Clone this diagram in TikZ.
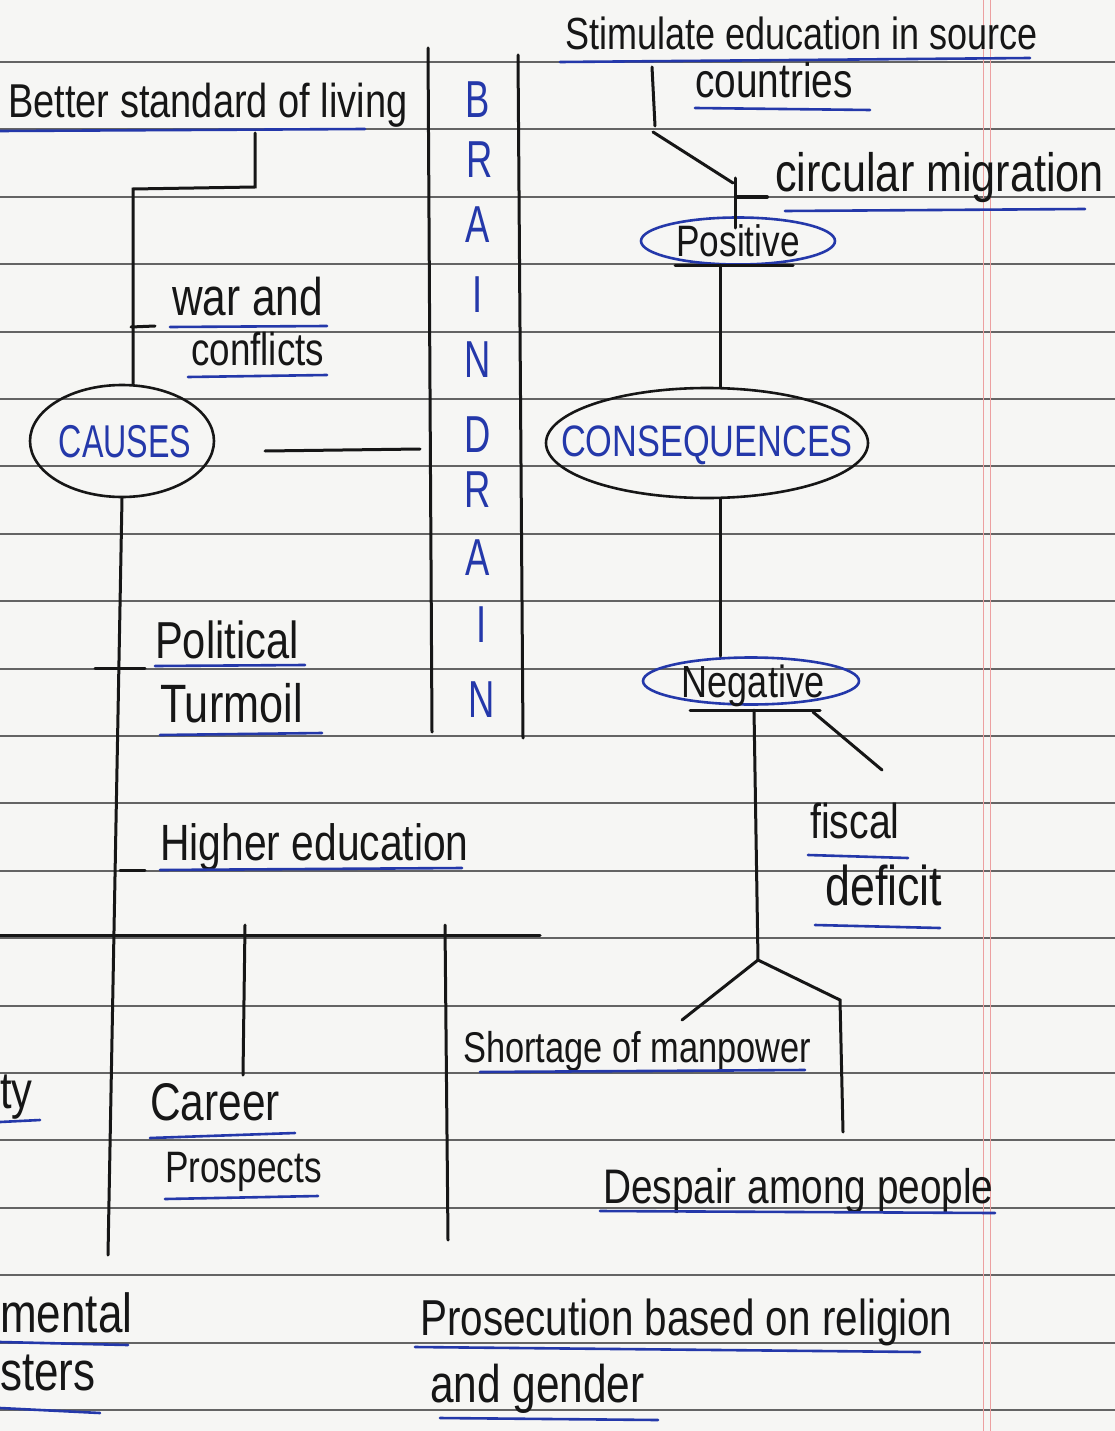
\documentclass[tikz,border=0pt]{standalone}
\usepackage{fontspec}
\usepackage{graphicx}
\setmainfont{Liberation Sans}
\usetikzlibrary{shapes.geometric}
\definecolor{penblue}{RGB}{36,56,170}
\definecolor{inkblack}{RGB}{22,22,22}
\definecolor{paper}{RGB}{246,246,244}
\definecolor{rulegray}{RGB}{100,100,100}
\definecolor{marginred}{RGB}{236,160,160}
\newcommand{\hwtext}[2][0.8]{\scalebox{#1}[1]{#2}}
\begin{document}
\begin{tikzpicture}[x=1pt,y=-1pt,
 ink/.style={line width=3pt,line cap=round,draw=inkblack},
 uline/.style={line width=2.6pt,line cap=round,draw=penblue},
 ruled/.style={line width=1.9pt,draw=rulegray},
 lbl/.style={inner sep=0pt,anchor=base west,text=inkblack,font=\fontsize{#1pt}{#1pt}\selectfont},
 lbl/.default=46,
 letter/.style={inner sep=0pt,text=penblue,font=\fontsize{52pt}{52pt}\selectfont},
 oval/.style={draw=#1,ellipse,line width=2.6pt,inner sep=0pt},
 ovaltext/.style={inner sep=0pt,anchor=base,font=\fontsize{#1pt}{#1pt}\selectfont}
]
\fill[paper] (0,0) rectangle (1115,1431);
\useasboundingbox (0,0) rectangle (1115,1431);
% notebook ruling
\foreach \k in {0,...,20}{\draw[ruled] (0,{62+67.4*\k}) -- (1115,{62+67.4*\k});}
\draw[marginred,line width=1pt] (983,0) -- (983,1431);
\draw[marginred,line width=1pt] (990,0) -- (990,1431);

% BRAIN DRAIN column
\coordinate (colL1) at (428,48); \coordinate (colL2) at (432,732);
\coordinate (colR1) at (518,55); \coordinate (colR2) at (523,738);
\draw[ink] (colL1) -- (colL2);
\draw[ink] (colR1) -- (colR2);
\node[letter] (b1) at (478,100) {\hwtext[0.7]{B}};
\node[letter] (b2) at (480,160) {\hwtext[0.7]{R}};
\node[letter] (b3) at (478,225) {\hwtext[0.7]{A}};
\node[letter] (b4) at (478,295) {\hwtext[0.7]{I}};
\node[letter] (b5) at (478,360) {\hwtext[0.7]{N}};
\node[letter] (b6) at (478,435) {\hwtext[0.7]{D}};
\node[letter] (b7) at (478,490) {\hwtext[0.7]{R}};
\node[letter] (b8) at (478,558) {\hwtext[0.7]{A}};
\node[letter] (b9) at (482,625) {\hwtext[0.7]{I}};
\node[letter] (b10) at (482,700) {\hwtext[0.7]{N}};

% ---------- causes side ----------
\node[oval=inkblack,minimum width=184pt,minimum height=112pt] (causes) at (122,441) {};
\node[ovaltext=46,text=penblue] (causestxt) at (125,457) {\hwtext[0.7]{CAUSES}};

\node[lbl=47.5] (better) at (8,118) {\hwtext{Better standard of living}};
\draw[uline] (0,131) -- (365,129);
\coordinate (e1) at (255,133); \coordinate (e2) at (255,187); \coordinate (e3) at (133,189);
\draw[ink] (e1) -- (e2) -- (e3) -- (e3 |- causes.north);
\coordinate (w1) at (131,327); \coordinate (w2) at (155,326);
\draw[ink] (w1) -- (w2);
\node[lbl=53] (war) at (172,315) {\hwtext{war and}};
\draw[uline] (170,327) -- (327,326);
\node[lbl=46] (confl) at (191,365) {\hwtext{conflicts}};
\draw[uline] (188,377) -- (327,375);

\coordinate (c1) at (265,451); \coordinate (c2) at (420,449);
\draw[ink] (c1) -- (c2);

\coordinate (trunk) at (108,1255);
\draw[ink] (causes.south) -- (trunk);
\coordinate (p1) at (95,668); \coordinate (p2) at (145,668);
\draw[ink] (p1) -- (p2);
\node[lbl=52] (polit) at (155,658) {\hwtext{Political}};
\draw[uline] (155,666) -- (305,665);
\node[lbl=54] (turm) at (160,722) {\hwtext{Turmoil}};
\draw[uline] (160,735) -- (322,733);
\coordinate (h1) at (120,870); \coordinate (h2) at (145,870);
\draw[ink] (h1) -- (h2);
\node[lbl=51] (higher) at (160,860) {\hwtext{Higher education}};
\draw[uline] (160,870) -- (462,868);

\coordinate (bar1) at (0,935); \coordinate (bar2) at (540,935);
\draw[ink] (bar1) -- (bar2);
\coordinate (k1) at (245,925); \coordinate (k2) at (243,1075);
\draw[ink] (k1) -- (k2);
\coordinate (q1) at (445,925); \coordinate (q2) at (448,1240);
\draw[ink] (q1) -- (q2);

\node[lbl=53] (career) at (150,1120) {\hwtext{Career}};
\draw[uline] (150,1138) -- (295,1133);
\node[lbl=44] (prosp) at (165,1182) {\hwtext{Prospects}};
\draw[uline] (165,1199) -- (318,1196);

\node[lbl=52] (ty) at (0,1108) {\hwtext{ty}};
\draw[uline] (0,1122) -- (40,1120);
\node[lbl=55] (mental) at (0,1332) {\hwtext{mental}};
\draw[uline] (0,1342) -- (128,1345);
\node[lbl=55] (sters) at (0,1390) {\hwtext{sters}};
\draw[uline] (0,1408) -- (100,1413);

\node[lbl=50.5] (prosec) at (420,1335) {\hwtext{Prosecution based on religion}};
\draw[uline] (415,1347) -- (920,1352);
\node[lbl=53] (gender) at (430,1402) {\hwtext{and gender}};
\draw[uline] (440,1418) -- (658,1420);

% ---------- consequences side ----------
\node[lbl=45] (stim) at (565,50) {\hwtext{Stimulate education in source}};
\draw[uline] (560,62) -- (1030,58);
\node[lbl=48.5] (countries) at (695,98) {\hwtext{countries}};
\draw[uline] (695,108) -- (870,110);

\node[lbl=54] (circ) at (775,192) {\hwtext{circular migration}};
\draw[uline] (785,211) -- (1085,209);

\node[oval=penblue,minimum width=194pt,minimum height=47pt] (pos) at (738,241) {};
\node[ovaltext=44,text=inkblack] (postxt) at (738,257) {\hwtext{Positive}};
\coordinate (pb1) at (675,265); \coordinate (pb2) at (793,265);
\draw[ink] (pb1) -- (pb2);

\coordinate (s1) at (652,67); \coordinate (s2) at (655,126);
\coordinate (s3) at (653,132); \coordinate (s4) at (733,183);
\coordinate (s5) at (735,178); \coordinate (s6) at (735,228);
\draw[ink] (s1) -- (s2);
\draw[ink] (s3) -- (s4);
\draw[ink] (s5) -- (s6);
\coordinate (t1) at (736,197); \coordinate (t2) at (767,197);
\draw[ink,line width=4pt] (t1) -- (t2);

\node[oval=inkblack,minimum width=322pt,minimum height=110pt] (cons) at (707,443) {};
\node[ovaltext=44,text=penblue] (constxt) at (707,456) {\hwtext[0.78]{CONSEQUENCES}};

\draw[ink] (pb1 -| 720,0) -- (cons.north -| 720,0);

\node[oval=penblue,minimum width=216pt,minimum height=47pt] (neg) at (751,681) {};
\node[ovaltext=45,text=inkblack] (negtxt) at (753,697) {\hwtext{Negative}};
\draw[ink] (cons.south -| 720,0) -- (neg.north -| 720,0);

\coordinate (n1) at (690,710); \coordinate (n2) at (820,710);
\draw[ink] (n1) -- (n2);
\coordinate (n3) at (754,710); \coordinate (fork) at (758,960);
\draw[ink] (n3) -- (fork);
\coordinate (f1) at (813,712); \coordinate (f2) at (882,770);
\draw[ink] (f1) -- (f2);

\node[lbl=49] (fiscal) at (810,838) {\hwtext{fiscal}};
\draw[uline] (808,855) -- (908,858);
\node[lbl=56] (deficit) at (825,905) {\hwtext{deficit}};
\draw[uline] (815,925) -- (940,928);

\coordinate (g1) at (682,1020);
\coordinate (g2) at (840,1000); \coordinate (g3) at (843,1132);
\draw[ink] (fork) -- (g1);
\draw[ink] (fork) -- (g2) -- (g3);

\node[lbl=43] (short) at (463,1062) {\hwtext{Shortage of manpower}};
\draw[uline] (480,1072) -- (805,1070);
\node[lbl=48.5] (despair) at (603,1203) {\hwtext{Despair among people}};
\draw[uline] (600,1211) -- (995,1213);
\end{tikzpicture}
\end{document}
